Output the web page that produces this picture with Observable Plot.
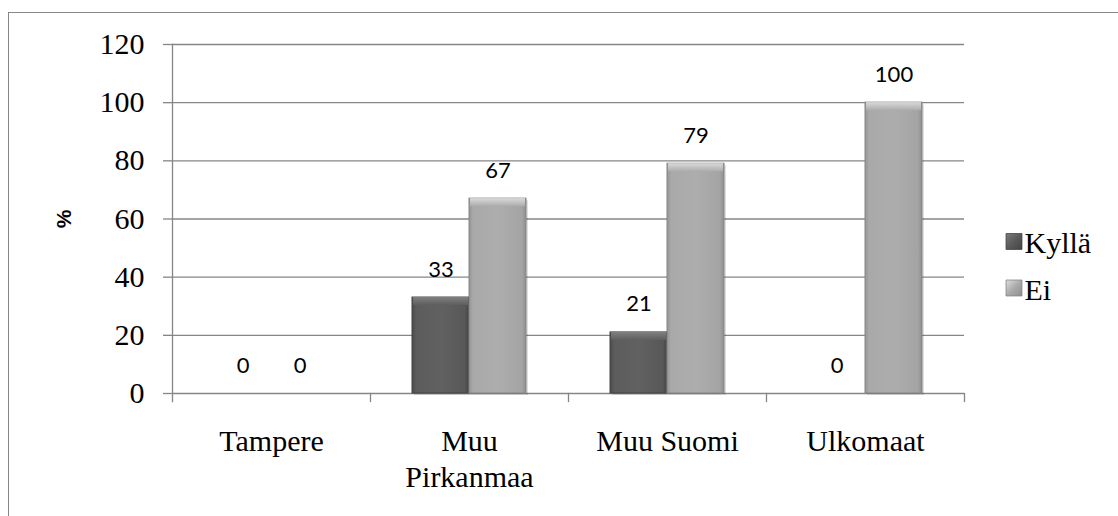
<!DOCTYPE html>
<html>
<head>
<meta charset="utf-8">
<script src="https://cdn.jsdelivr.net/npm/d3@7"></script>
<script src="https://cdn.jsdelivr.net/npm/@observablehq/plot@0.6"></script>
<style>
  html, body { margin: 0; padding: 0; background: #fff; }
  #wrap { position: relative; width: 1118px; height: 516px; overflow: hidden; }
  #border { position: absolute; left: 8px; top: 12px; right: -10px; bottom: -10px;
            border-top: 1.5px solid #868686; border-left: 1.5px solid #868686; }
  #chart { position: absolute; left: 0; top: 0; }
</style>
</head>
<body>
<div id="wrap">
  <div id="border"></div>
  <div id="chart"></div>
</div>
<script>
// ---- data ----
const categories = ["Tampere", "Muu Pirkanmaa", "Muu Suomi", "Ulkomaat"];
const categoryLabels = ["Tampere", "Muu\nPirkanmaa", "Muu Suomi", "Ulkomaat"];
const seriesNames = ["Kyllä", "Ei"];
const kylla = [0, 33, 21, 0];
const ei = [0, 67, 79, 100];
const yTicks = [0, 20, 40, 60, 80, 100, 120];
const yLabel = "%";

const seriesValues = {"Kyllä": kylla, "Ei": ei};
const table = [];
categories.forEach((c, i) => {
  seriesNames.forEach(s => table.push({category: c, series: s, value: seriesValues[s][i]}));
});
const labelOf = new Map(categories.map((c, i) => [c, categoryLabels[i]]));

const fills = {"Kyllä": "url(#gKylla)", "Ei": "url(#gEi)"};
const strokes = {"Kyllä": "#444444", "Ei": "#858585"};
const tops = {"Kyllä": "url(#tKylla)", "Ei": "url(#tEi)"};
const swatches = {"Kyllä": "url(#lKylla)", "Ei": "url(#lEi)"};

const nonZero = table.filter(d => d.value > 0);
const serif = "Liberation Serif, Times New Roman, serif";

function legendMarks(name, dy) {
  return [
    Plot.dot([name], {facetAnchor: "right", frameAnchor: "right", dx: 49.5, dy: dy - 2, symbol: "square", r: 9,
                      fill: swatches[name], stroke: strokes[name], strokeWidth: 0.8}),
    Plot.text([name], {facetAnchor: "right", frameAnchor: "right", dx: 60, dy: dy, text: d => d,
                       textAnchor: "start", lineAnchor: "middle", fontSize: 30, fontFamily: serif, fill: "#000"})
  ];
}

const chart = Plot.plot({
  width: 1118,
  height: 516,
  marginLeft: 170,
  marginRight: 153,
  marginTop: 44,
  marginBottom: 123,
  style: {background: "transparent", overflow: "visible"},
  fx: {domain: categories, padding: 0, label: null},
  x: {domain: seriesNames, paddingInner: 0, paddingOuter: 0.73, axis: null},
  y: {domain: [0, 120], label: null},
  marks: [
    Plot.gridY(yTicks.filter(t => t > 0), {stroke: "#868686", strokeOpacity: 1, strokeWidth: 1.3}),
    Plot.ruleY([0], {stroke: "#868686", strokeWidth: 1.3}),
    // category boundary ticks below the axis
    Plot.frame({anchor: "right", insetTop: 349, insetBottom: -8, stroke: "#868686", strokeWidth: 1.3}),
    Plot.frame({anchor: "left", facetAnchor: "left", insetBottom: -8, stroke: "#868686", strokeWidth: 1.3}),
    Plot.axisY({ticks: yTicks, tickSize: 9, tickPadding: 19, stroke: "#868686", strokeWidth: 1.3,
                fontSize: 30, fontFamily: serif, fill: "#000",
                tickFormat: d => String(d), label: null}),
    Plot.axisFx({anchor: "bottom", tickSize: 0, tickPadding: 33, fontSize: 30, lineHeight: 1.17,
                 fontFamily: serif, fill: "#000",
                 tickFormat: d => labelOf.get(d), label: null}),
    // y label
    Plot.text([yLabel], {facetAnchor: "left", frameAnchor: "left", dx: -108, text: d => d, rotate: -90,
                         fontSize: 21, fontWeight: "bold", fontFamily: "Liberation Sans, Arial, sans-serif",
                         fill: "#000", textAnchor: "middle", lineAnchor: "middle"}),
    // shadow
    Plot.barY(nonZero, {fx: "category", x: "series", y: "value", fill: "#000", fillOpacity: 0.12,
                        dx: 2, dy: 2}),
    // bars
    Plot.barY(nonZero, {fx: "category", x: "series", y: "value",
                        fill: d => fills[d.series], stroke: d => strokes[d.series], strokeWidth: 1}),
    // top bevel highlight
    Plot.barY(nonZero, {fx: "category", x: "series", y1: "value", y2: "value",
                        insetBottom: -8, insetLeft: 1, insetRight: 1,
                        fill: d => tops[d.series]}),
    // value labels
    Plot.text(table, {fx: "category", x: "series", y: "value", text: d => String(d.value),
                      dy: -28, fontSize: 22, fontFamily: "Lato, Carlito, Calibri, sans-serif",
                      fill: "#000", textAnchor: "middle", lineAnchor: "middle"}),
    // legend (right of the plot)
    ...legendMarks("Kyllä", 24.5),
    ...legendMarks("Ei", 71)
  ]
});
document.getElementById("chart").appendChild(chart);

// gradient definitions for bevelled bars
const svg = chart.tagName.toLowerCase() === "svg" ? chart : chart.querySelector("svg");
const ns = "http://www.w3.org/2000/svg";
const defs = document.createElementNS(ns, "defs");
function grad(id, stops, dir) {
  const g = document.createElementNS(ns, "linearGradient");
  g.setAttribute("id", id);
  const [x2, y2] = dir === "v" ? ["0", "1"] : dir === "d" ? ["1", "1"] : ["1", "0"];
  g.setAttribute("x1", "0"); g.setAttribute("y1", "0");
  g.setAttribute("x2", x2); g.setAttribute("y2", y2);
  stops.forEach(([o, c]) => {
    const s = document.createElementNS(ns, "stop");
    s.setAttribute("offset", o); s.setAttribute("stop-color", c);
    g.appendChild(s);
  });
  defs.appendChild(g);
}
grad("gKylla", [[0, "#4a4a4a"], [0.07, "#5c5c5c"], [0.5, "#616161"], [0.93, "#585858"], [1, "#424242"]], "h");
grad("gEi", [[0, "#959595"], [0.07, "#a9a9a9"], [0.5, "#adadad"], [0.93, "#a4a4a4"], [1, "#8e8e8e"]], "h");
grad("tKylla", [[0, "#808080"], [1, "#5e5e5e"]], "v");
grad("tEi", [[0, "#dadada"], [1, "#acacac"]], "v");
grad("lKylla", [[0, "#7c7c7c"], [0.5, "#5a5a5a"], [1, "#444444"]], "d");
grad("lEi", [[0, "#dedede"], [0.5, "#ababab"], [1, "#8c8c8c"]], "d");
svg.insertBefore(defs, svg.firstChild);
</script>
</body>
</html>
